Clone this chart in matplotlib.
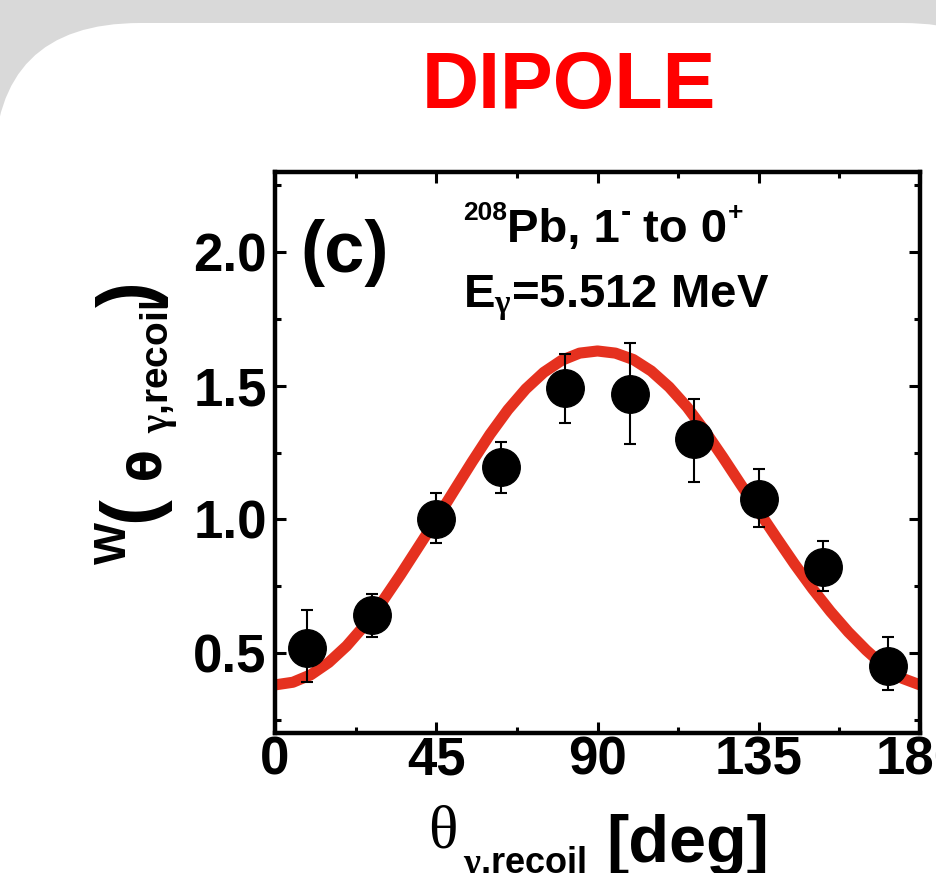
import matplotlib
matplotlib.use("Agg")
import matplotlib.pyplot as plt
from matplotlib.patches import FancyBboxPatch
from matplotlib.ticker import MultipleLocator, FormatStrFormatter

plt.rcParams["font.family"] = ["Liberation Sans", "DejaVu Sans"]
plt.rcParams["font.weight"] = "bold"
plt.rcParams["mathtext.fontset"] = "custom"
plt.rcParams["mathtext.rm"] = "Liberation Sans:bold"
plt.rcParams["mathtext.bf"] = "Liberation Sans:bold"
plt.rcParams["mathtext.it"] = "Liberation Serif"

# measured points (angle in deg, W value, lower / upper error)
angle = [9, 27, 45, 63, 81, 99, 117, 135, 153, 171]
w_val = [0.52, 0.64, 1.00, 1.195, 1.49, 1.47, 1.30, 1.075, 0.82, 0.45]
err_lo = [0.13, 0.08, 0.09, 0.095, 0.13, 0.19, 0.16, 0.105, 0.09, 0.09]
err_hi = [0.14, 0.08, 0.10, 0.095, 0.13, 0.19, 0.15, 0.115, 0.10, 0.11]

# dipole curve every 5 deg
curve_angle = list(range(0, 181, 5))
curve_w = [0.380, 0.390, 0.418, 0.464, 0.526, 0.603, 0.693, 0.792, 0.896, 1.000,
           1.108, 1.215, 1.318, 1.410, 1.488, 1.550, 1.595, 1.622, 1.630,
           1.622, 1.598, 1.555, 1.495, 1.420, 1.330, 1.232, 1.130, 1.030, 0.930,
           0.832, 0.740, 0.655, 0.578, 0.510, 0.450, 0.405, 0.380]

x_ticks = [0, 45, 90, 135, 180]
y_ticks = [0.5, 1.0, 1.5, 2.0]

W, H = 937, 873
fig = plt.figure(figsize=(W / 100, H / 100), dpi=100, facecolor="#d9d9d9")


def put(x, y, s, size, **kw):
    # place text by pixel position measured from the top-left corner
    kw.setdefault("ha", "left")
    kw.setdefault("va", "baseline")
    return fig.text(x / W, 1 - y / H, s, fontsize=size, **kw)


# white rounded panel behind everything
bg = fig.add_axes([0, 0, 1, 1], zorder=-10)
bg.set_xlim(0, W)
bg.set_ylim(H, 0)
bg.axis("off")
bg.add_patch(FancyBboxPatch((-6, 23), 1055, 1100,
                            boxstyle="round,pad=0,rounding_size=146",
                            fc="white", ec="none"))

ax = fig.add_axes([275 / W, 1 - 733 / H, 645 / W, 561 / H])
ax.set_facecolor("none")
ax.plot(curve_angle, curve_w, color="#e5311f", lw=8, zorder=2,
        solid_joinstyle="round")
ax.errorbar(angle, w_val, yerr=[err_lo, err_hi], fmt="o", ms=27,
            color="black", ecolor="black", elinewidth=1.5, capsize=4,
            capthick=1.5, zorder=3)

ax.set_xlim(0, 180)
ax.set_ylim(0.2, 2.3)
ax.set_xticks(x_ticks)
ax.set_yticks(y_ticks)
ax.xaxis.set_minor_locator(MultipleLocator(22.5))
ax.yaxis.set_minor_locator(MultipleLocator(0.25))
ax.yaxis.set_major_formatter(FormatStrFormatter("%.1f"))
ax.tick_params(which="both", direction="in", top=True, right=True,
               width=2.2, labelsize=38)
ax.tick_params(which="major", length=8)
ax.tick_params(which="minor", length=4.5)
ax.tick_params(axis="x", pad=1.5)
ax.tick_params(axis="y", pad=6)
for sp in ax.spines.values():
    sp.set_linewidth(3.2)

put(569, 108, "DIPOLE", 57, color="#ff0000", ha="center")
put(300, 272, "(c)", 52)

# 208Pb, 1- to 0+  (small raised parts set apart)
put(463, 220, "208", 19)
put(507, 242, "Pb, 1", 34)
put(621, 221, "-", 22)
put(643, 242, "to 0", 34)
put(728, 220, "+", 19)
put(463, 308, r"E$_{\gamma}$=5.512 MeV", 34)

# y label built from pieces
rot = dict(rotation=90, rotation_mode="anchor")
put(126, 564, "W", 32, **rot)
put(153, 522, "(", 56, **rot)
put(160, 479, "θ", 33, family=["DejaVu Sans"], **rot)
put(168, 433, r"$\gamma$,recoil", 28, **rot)
put(153, 307, ")", 56, **rot)

# x label built from pieces
put(428, 847, "θ", 44, family=["Liberation Serif"], fontweight="normal")
put(463, 873, r"$\gamma$,recoil", 26)
put(606, 862, "[deg]", 48)

fig.savefig("out.png", dpi=100, facecolor=fig.get_facecolor())
